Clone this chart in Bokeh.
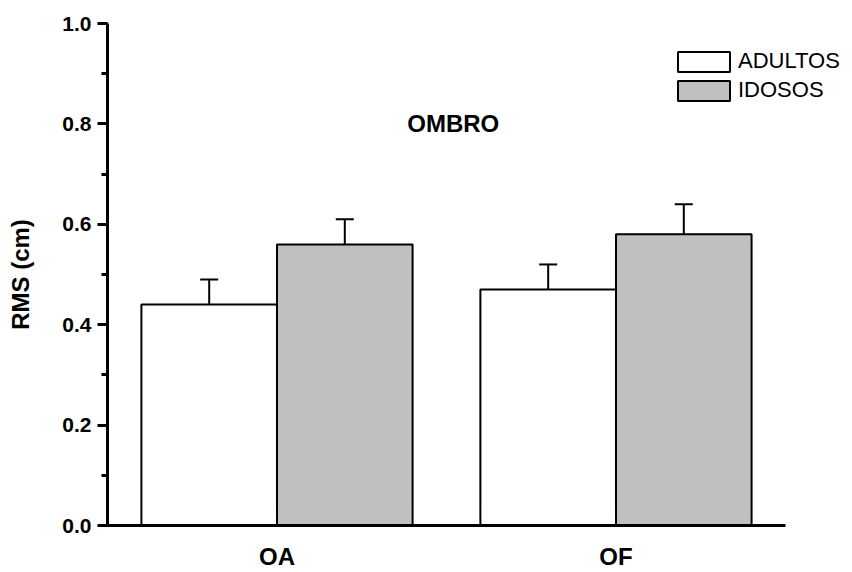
from bokeh.plotting import figure
from bokeh.models import (ColumnDataSource, Range1d, Whisker, TeeHead, FixedTicker,
                          Legend, LegendItem, Label, SingleIntervalTicker, PrintfTickFormatter)
from bokeh.embed import file_html
from bokeh.resources import INLINE

categories = ["OA", "OF"]
category_pos = [0.5, 1.5]
groups = ["ADULTOS", "IDOSOS"]
adultos = [0.44, 0.47]
adultos_err = [0.05, 0.05]
idosos = [0.56, 0.58]
idosos_err = [0.05, 0.06]
title_text = "OMBRO"
y_label = "RMS (cm)"

BAR_W = 0.4
src = ColumnDataSource(dict(
    x_ad=[c - BAR_W / 2 for c in category_pos],
    x_id=[c + BAR_W / 2 for c in category_pos],
    adultos=adultos,
    idosos=idosos,
    adultos_up=[a + e for a, e in zip(adultos, adultos_err)],
    idosos_up=[a + e for a, e in zip(idosos, idosos_err)],
))

FONT = "Liberation Sans"

p = figure(width=852, height=572,
           x_range=Range1d(0, 2.18),
           y_range=Range1d(0, 1.0),
           output_backend="svg", toolbar_location=None,
           min_border_left=107, min_border_right=6,
           min_border_top=23, min_border_bottom=46)
p.outline_line_color = None
p.xgrid.grid_line_color = None
p.ygrid.grid_line_color = None
p.background_fill_color = "white"

r1 = p.vbar(x="x_ad", top="adultos", width=BAR_W, source=src,
            fill_color="white", line_color="black", line_width=2)
r2 = p.vbar(x="x_id", top="idosos", width=BAR_W, source=src,
            fill_color="#c0c0c0", line_color="black", line_width=2)

for base, lo, up in [("x_ad", "adultos", "adultos_up"), ("x_id", "idosos", "idosos_up")]:
    w = Whisker(source=src, base=base, lower=lo, upper=up,
                line_color="black", line_width=2,
                upper_head=TeeHead(size=18, line_color="black", line_width=2),
                lower_head=None)
    p.add_layout(w)

# y axis
yax = p.yaxis[0]
yax.ticker = SingleIntervalTicker(interval=0.2, num_minor_ticks=2)
yax.formatter = PrintfTickFormatter(format="%.1f")
yax.axis_line_width = 3
yax.major_tick_line_width = 3
yax.minor_tick_line_width = 3
yax.major_tick_out = 10
yax.major_tick_in = 0
yax.minor_tick_out = 6
yax.minor_tick_in = 0
yax.major_label_text_font = FONT
yax.major_label_text_font_style = "bold"
yax.major_label_text_font_size = "21px"
yax.major_label_text_color = "black"
yax.major_label_standoff = 6
yax.axis_label = y_label
yax.axis_label_text_font = FONT
yax.axis_label_text_font_style = "bold"
yax.axis_label_text_font_size = "24px"
yax.axis_label_text_color = "black"
yax.axis_label_standoff = 25

# x axis
xax = p.xaxis[0]
xax.bounds = (0, 2)
xax.ticker = FixedTicker(ticks=category_pos)
xax.major_label_overrides = {pos: lab for pos, lab in zip(category_pos, categories)}
xax.axis_line_width = 3
xax.major_tick_line_color = None
xax.minor_tick_line_color = None
xax.major_tick_out = 0
xax.major_tick_in = 0
xax.major_label_text_font = FONT
xax.major_label_text_font_style = "bold"
xax.major_label_text_font_size = "24px"
xax.major_label_text_color = "black"
xax.major_label_standoff = 17

# title label inside plot
p.add_layout(Label(x=1.02, y=0.8, text=title_text, text_align="center",
                   text_baseline="alphabetic", text_font=FONT, text_font_style="bold",
                   text_font_size="24px", text_color="black"))

legend = Legend(items=[LegendItem(label=groups[0], renderers=[r1]),
                       LegendItem(label=groups[1], renderers=[r2])],
                location=(564, 422), padding=0, margin=0, spacing=3,
                glyph_width=65, glyph_height=25, label_standoff=2,
                border_line_color=None, background_fill_alpha=0,
                label_text_font=FONT, label_text_font_size="22px",
                label_text_color="black",
                label_text_baseline="middle")
p.add_layout(legend, "center")

open("out.html", "w").write(file_html(p, INLINE))
